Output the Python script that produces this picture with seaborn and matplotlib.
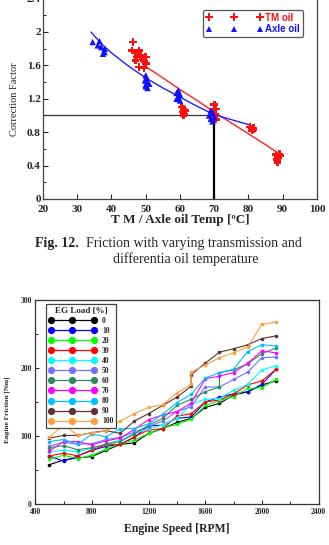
import matplotlib
matplotlib.use("Agg")
import matplotlib.pyplot as plt
from matplotlib.lines import Line2D
from matplotlib.ticker import MultipleLocator, FormatStrFormatter
import pandas as pd
import seaborn as sns

# --- top chart: correction factor vs oil temperature ---
tm_temp = [46.3, 46.0, 47.0, 48.0, 47.5, 48.5, 49.0, 49.5, 50.0, 48.0, 49.5, 47.0, 50.0,
           60.5, 61.0, 61.5, 60.8, 61.2, 61.0,
           70.0, 70.5, 69.5, 70.3, 70.0, 70.5,
           80.5, 81.0, 81.5, 81.0, 81.5,
           88.0, 88.5, 89.0, 88.8, 88.3, 88.5, 89.2]
tm_cf = [1.88, 1.78, 1.75, 1.78, 1.70, 1.72, 1.68, 1.65, 1.62, 1.58, 1.57, 1.66, 1.70,
         1.10, 1.08, 1.06, 1.04, 1.02, 1.00,
         1.13, 1.08, 1.05, 1.02, 0.98, 0.95,
         0.86, 0.84, 0.83, 0.82, 0.85,
         0.53, 0.51, 0.54, 0.49, 0.47, 0.44, 0.52]
axle_temp = [34.5, 36.5, 36.0, 37.0, 38.0, 38.0, 37.5,
             50.0, 50.2, 49.8, 50.5, 50.0, 51.0, 50.5, 50.0,
             59.5, 59.0, 60.0, 59.5, 59.0, 60.0,
             69.0, 69.5, 68.5, 70.0, 69.0, 69.5]
axle_cf = [1.88, 1.89, 1.84, 1.82, 1.80, 1.76, 1.74,
           1.48, 1.45, 1.42, 1.40, 1.37, 1.38, 1.33, 1.35,
           1.30, 1.27, 1.25, 1.22, 1.20, 1.18,
           1.06, 1.03, 1.00, 0.98, 0.96, 0.93]
tm_fit_temp = [49.5, 55, 60, 65, 70, 75, 80, 85, 89]
tm_fit_cf = [1.60, 1.45, 1.31, 1.18, 1.04, 0.91, 0.78, 0.65, 0.54]
axle_fit_temp = [34, 37, 40, 45, 50, 55, 60, 65, 70, 75, 80.5]
axle_fit_cf = [2.0, 1.86, 1.75, 1.59, 1.45, 1.33, 1.22, 1.11, 1.01, 0.95, 0.885]
ref_temp = 70
ref_cf = 1.0

# --- bottom chart: engine friction vs engine speed ---
rpm = [500, 600, 700, 800, 900, 1000, 1100, 1200, 1300, 1400, 1500,
       1600, 1700, 1800, 1900, 2000, 2100]
rpm_jump1500 = [500, 600, 700, 800, 900, 1000, 1100, 1200, 1300, 1400, 1500, 1500,
                1600, 1700, 1800, 1900, 2000, 2100]
rpm_jump1700 = [500, 600, 700, 800, 900, 1000, 1100, 1200, 1300, 1400, 1500,
                1600, 1700, 1700, 1800, 1900, 2000, 2100]
loads = ["0", "10", "20", "30", "40", "50", "60", "70", "80", "90", "100"]
fr_0 = [58, 65, 68, 70, 79, 88, 90, 104, 111, 120, 126, 142, 148, 160, 165, 175, 181]
fr_10 = [71, 63, 71, 79, 85, 88, 98, 115, 116, 126, 128, 150, 157, 162, 165, 176, 198]
fr_20 = [66, 72, 67, 72, 81, 89, 94, 104, 112, 117, 125, 145, 152, 158, 170, 171, 183]
fr_30 = [71, 75, 71, 80, 87, 88, 99, 109, 111, 129, 133, 150, 153, 162, 175, 181, 198]
fr_40 = [77, 79, 77, 82, 89, 94, 104, 111, 116, 126, 147, 154, 155, 167, 176, 197, 203]
fr_50 = [85, 91, 88, 89, 95, 98, 106, 114, 122, 136, 143, 172, 172, 183, 194, 215, 216]
fr_60 = [83, 86, 80, 83, 88, 92, 103, 116, 126, 145, 154, 165, 172, 193, 197, 206, 221, 229]
fr_70 = [78, 92, 92, 87, 93, 97, 110, 124, 131, 136, 148, 184, 188, 193, 207, 225, 222]
fr_80 = [92, 95, 88, 103, 99, 111, 111, 118, 132, 149, 161, 185, 193, 198, 224, 234, 232]
fr_90 = [97, 101, 101, 105, 108, 104, 122, 133, 145, 157, 173, 190, 207, 223, 228, 234, 243, 247]
fr_100 = [98, 117, 101, 105, 107, 122, 133, 142, 146, 163, 176, 194, 204, 215, 222, 231, 264, 267]
load_colors = ["#000000", "#0000ff", "#00ff00", "#ff0000", "#00ffff", "#7272ff",
               "#2e8b57", "#ff00ff", "#00bfff", "#5e3232", "#ffa040"]

sns.set_style("ticks")
plt.rcParams["font.family"] = ["Liberation Serif", "DejaVu Serif"]
plt.rcParams["xtick.direction"] = "in"
plt.rcParams["ytick.direction"] = "in"

fig = plt.figure(figsize=(3.29, 5.45), dpi=100)

# top axes
ax1 = fig.add_axes([0.1307, 0.6349, 0.8328, 0.3677])
sns.scatterplot(x=tm_temp, y=tm_cf, marker="P", color="#ff1010", s=30,
                edgecolor="none", ax=ax1, zorder=3)
sns.scatterplot(x=axle_temp, y=axle_cf, marker="^", color="#1010ff", s=22,
                edgecolor="none", ax=ax1, zorder=3)
sns.lineplot(x=tm_fit_temp, y=tm_fit_cf, color="#ff2020", linewidth=1.0, ax=ax1)
sns.lineplot(x=axle_fit_temp, y=axle_fit_cf, color="#2020ff", linewidth=1.0, ax=ax1)
ax1.hlines(ref_cf, 20, ref_temp, color="#333333", linewidth=0.9)
ax1.vlines(ref_temp, 0, ref_cf, color="black", linewidth=1.6)
ax1.set_xlim(20, 100)
ax1.set_ylim(0, 2.4)
ax1.xaxis.set_major_locator(MultipleLocator(10))
ax1.yaxis.set_major_locator(MultipleLocator(0.4))
ax1.yaxis.set_minor_locator(MultipleLocator(0.2))
ax1.yaxis.set_major_formatter(FormatStrFormatter("%g"))
ax1.tick_params(labelsize=8, length=3.5, width=0.8, pad=1.5)
ax1.tick_params(axis="x", pad=4)
ax1.tick_params(which="minor", length=2, width=0.7)
for lbl in ax1.get_xticklabels() + ax1.get_yticklabels():
    lbl.set_fontweight("bold")
ax1.set_xlabel("T M / Axle oil Temp [ºC]", fontsize=9.5, fontweight="bold", labelpad=0)
ax1.set_ylabel("Correction Factor", fontsize=7.5, labelpad=6)
for s in ax1.spines.values():
    s.set_linewidth(0.9)
    s.set_color("#444444")

h_tm = Line2D([], [], marker="P", color="#ff1010", linestyle="none", markersize=5.5,
              markeredgewidth=0)
h_ax = Line2D([], [], marker="^", color="#1010ff", linestyle="none", markersize=5,
              markeredgewidth=0)
leg1 = ax1.legend([h_tm, h_ax], ["TM oil", "Axle oil"], numpoints=3,
                  loc="upper right", bbox_to_anchor=(0.949, 0.945),
                  fancybox=True, framealpha=1, edgecolor="#555555",
                  handlelength=5.8, handletextpad=0.3, borderpad=0.3,
                  labelspacing=0.15, borderaxespad=0,
                  prop={"family": "Liberation Sans", "weight": "bold", "size": 7})
leg1.get_frame().set_linewidth(0.9)
leg1.get_texts()[0].set_color("#ff1010")
leg1.get_texts()[1].set_color("#1010ff")

# caption
fig.text(0.106, 1 - 243 / 545, "Fig. 12.", fontsize=10, fontweight="bold",
         va="center", ha="left")
fig.text(0.262, 1 - 243 / 545, "Friction with varying transmission and",
         fontsize=10, va="center", ha="left")
fig.text(0.565, 1 - 259 / 545, "differentia oil temperature", fontsize=10,
         va="center", ha="center")

# bottom axes
series = [(rpm, fr_0), (rpm, fr_10), (rpm, fr_20), (rpm, fr_30), (rpm, fr_40),
          (rpm, fr_50), (rpm_jump1700, fr_60), (rpm, fr_70), (rpm, fr_80),
          (rpm_jump1500, fr_90), (rpm_jump1500, fr_100)]
frames = []
for load, (xs, ys) in zip(loads, series):
    frames.append(pd.DataFrame({"rpm": xs, "friction": ys, "load": load}))
df = pd.concat(frames, ignore_index=True)
palette = dict(zip(loads, load_colors))

ax2 = fig.add_axes([0.107, 0.0747, 0.8614, 0.3754])
sns.lineplot(data=df, x="rpm", y="friction", hue="load", hue_order=loads,
             palette=palette, estimator=None, sort=False, units="load",
             marker="o", markersize=2.6, markeredgewidth=0, linewidth=0.8,
             legend=False, ax=ax2)
ax2.set_xlim(400, 2400)
ax2.set_ylim(0, 300)
ax2.xaxis.set_major_locator(MultipleLocator(400))
ax2.xaxis.set_minor_locator(MultipleLocator(200))
ax2.yaxis.set_major_locator(MultipleLocator(100))
ax2.yaxis.set_minor_locator(MultipleLocator(50))
ax2.tick_params(labelsize=5.5, length=3, width=0.8, pad=2.5)
ax2.tick_params(which="minor", length=2, width=0.7)
for lbl in ax2.get_xticklabels() + ax2.get_yticklabels():
    lbl.set_fontweight("bold")
ax2.set_xlabel("Engine Speed [RPM]", fontsize=8.5, fontweight="bold", labelpad=5)
ax2.set_ylabel("Engine Friction [Nm]", fontsize=5.2, fontweight="bold", labelpad=2)
ax2.yaxis.set_label_coords(-0.09, 0.46)
for s in ax2.spines.values():
    s.set_linewidth(0.9)
    s.set_color("#333333")

handles = [Line2D([], [], color=c, marker="o", markersize=5.2, markeredgewidth=0,
                  linewidth=0.9) for c in load_colors]
leg2 = ax2.legend(handles, loads, numpoints=3, loc="upper left",
                  bbox_to_anchor=(0.038, 0.979), title="EG Load [%]",
                  fancybox=False, framealpha=1, edgecolor="#444444",
                  handlelength=6.2, handletextpad=0.8, borderpad=0.35,
                  labelspacing=0.27, borderaxespad=0,
                  prop={"weight": "bold", "size": 5.5})
leg2.get_title().set_fontsize(6.5)
leg2.get_title().set_fontweight("bold")
leg2.get_frame().set_linewidth(0.9)

fig.savefig("out.png", dpi=100)
